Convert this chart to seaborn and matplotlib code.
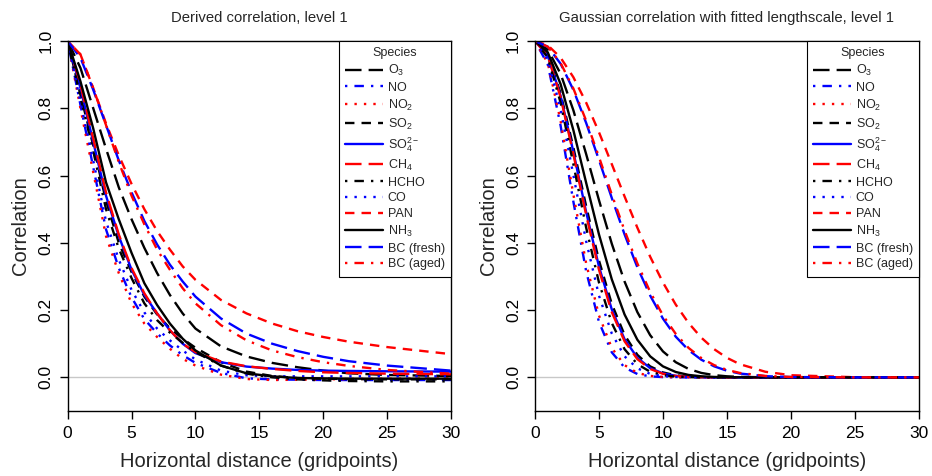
import numpy as np
import pandas as pd
import seaborn as sns
import matplotlib
matplotlib.use("Agg")
import matplotlib.pyplot as plt

# ---------------- data ----------------
species = ["O$_3$", "NO", "NO$_2$", "SO$_2$", "SO$_4^{2-}$", "CH$_4$", "HCHO",
           "CO", "PAN", "NH$_3$", "BC (fresh)", "BC (aged)"]
colors = ["black", "blue", "red", "black", "blue", "red", "black",
          "blue", "red", "black", "blue", "red"]
styles = ["longdash", "dotdash", "dotted", "dashed", "solid", "longdash", "dotdash",
          "dotted", "dashed", "solid", "longdash", "dotdash"]

x_left = [0, 1, 2, 3, 4, 5, 6, 7, 8, 9, 10, 12, 14, 16, 18, 20, 22, 25, 30]
left_O3 = [1, 0.92, 0.80, 0.68, 0.565, 0.47, 0.385, 0.31, 0.245, 0.19, 0.145, 0.092, 0.062, 0.043, 0.03, 0.02, 0.012, 0.007, 0.004]
left_NO = [1, 0.81, 0.625, 0.44, 0.325, 0.238, 0.173, 0.131, 0.095, 0.066, 0.043, 0.013, -0.003, -0.006, -0.007, -0.008, -0.008, -0.008, -0.008]
left_NO2 = [1, 0.80, 0.61, 0.42, 0.31, 0.22, 0.16, 0.12, 0.085, 0.055, 0.035, 0.008, -0.005, -0.008, -0.007, -0.006, -0.005, -0.004, -0.003]
left_SO2 = [1, 0.84, 0.69, 0.525, 0.40, 0.313, 0.24, 0.187, 0.146, 0.115, 0.088, 0.045, 0.017, 0.004, -0.002, -0.004, -0.005, -0.006, -0.006]
left_SO4 = [1, 0.86, 0.70, 0.54, 0.42, 0.32, 0.245, 0.19, 0.14, 0.10, 0.072, 0.045, 0.032, 0.026, 0.022, 0.02, 0.019, 0.018, 0.017]
left_CH4 = [1, 0.87, 0.71, 0.55, 0.425, 0.325, 0.25, 0.19, 0.14, 0.10, 0.075, 0.047, 0.033, 0.025, 0.019, 0.015, 0.013, 0.011, 0.009]
left_HCHO = [1, 0.833, 0.673, 0.5, 0.383, 0.295, 0.22, 0.17, 0.133, 0.103, 0.075, 0.035, 0.011, 0.0, -0.006, -0.009, -0.011, -0.012, -0.012]
left_CO = [1, 0.818, 0.645, 0.464, 0.35, 0.26, 0.193, 0.145, 0.11, 0.08, 0.053, 0.02, 0.006, 0.003, 0.003, 0.003, 0.003, 0.003, 0.003]
left_PAN = [1, 0.96, 0.86, 0.755, 0.66, 0.575, 0.5, 0.435, 0.38, 0.33, 0.29, 0.23, 0.19, 0.16, 0.137, 0.12, 0.106, 0.09, 0.069]
left_NH3 = [1, 0.88, 0.74, 0.58, 0.47, 0.37, 0.28, 0.215, 0.16, 0.115, 0.08, 0.035, 0.012, 0.003, -0.002, -0.003, -0.004, -0.004, -0.004]
left_BCf = [1, 0.95, 0.855, 0.75, 0.645, 0.55, 0.465, 0.395, 0.335, 0.285, 0.24, 0.175, 0.13, 0.10, 0.078, 0.061, 0.048, 0.035, 0.02]
left_BCa = [1, 0.96, 0.86, 0.75, 0.64, 0.54, 0.455, 0.38, 0.32, 0.265, 0.22, 0.155, 0.11, 0.08, 0.06, 0.045, 0.034, 0.022, 0.011]

x_right = [0, 1, 2, 3, 4, 5, 6, 7, 8, 9, 10, 11, 12, 13, 14, 15, 16, 18, 20, 25, 30]
right_O3 = [1, 0.9747, 0.9026, 0.794, 0.6636, 0.5269, 0.3974, 0.2848, 0.1939, 0.1254, 0.0771, 0.045, 0.0249, 0.0131, 0.0066, 0.0031, 0.0014, 0.0002, 0, 0, 0]
right_NO = [1, 0.930, 0.749, 0.5225, 0.3153, 0.1648, 0.0745, 0.0292, 0.0099, 0.0029, 0.0007, 0.0002, 0, 0, 0, 0, 0, 0, 0, 0, 0]
right_NO2 = [1, 0.9346, 0.7628, 0.5438, 0.3386, 0.1841, 0.0874, 0.0363, 0.0131, 0.0042, 0.0012, 0.0003, 0.0001, 0, 0, 0, 0, 0, 0, 0, 0]
right_SO2 = [1, 0.9586, 0.8445, 0.6837, 0.5086, 0.3477, 0.2184, 0.1261, 0.0669, 0.0326, 0.0146, 0.006, 0.0023, 0.0008, 0.0003, 0.0001, 0, 0, 0, 0, 0]
right_SO4 = [1, 0.9565, 0.8372, 0.6705, 0.4913, 0.3294, 0.2021, 0.1134, 0.0583, 0.0274, 0.0118, 0.0046, 0.0017, 0.0005, 0.0002, 0, 0, 0, 0, 0, 0]
right_CH4 = [1, 0.9555, 0.8334, 0.6636, 0.4823, 0.320, 0.1939, 0.1072, 0.0541, 0.0249, 0.0105, 0.004, 0.0014, 0.0005, 0.0001, 0, 0, 0, 0, 0, 0]
right_HCHO = [1, 0.9506, 0.8167, 0.634, 0.4449, 0.282, 0.1616, 0.0837, 0.0392, 0.0166, 0.0063, 0.0022, 0.0007, 0.0002, 0, 0, 0, 0, 0, 0, 0]
right_CO = [1, 0.945, 0.7975, 0.601, 0.4044, 0.243, 0.1304, 0.0625, 0.0268, 0.0102, 0.0035, 0.0011, 0.0003, 0.0001, 0, 0, 0, 0, 0, 0, 0]
right_PAN = [1, 0.9874, 0.9506, 0.8923, 0.8167, 0.7288, 0.634, 0.5378, 0.4449, 0.3587, 0.282, 0.2162, 0.1616, 0.1178, 0.0837, 0.058, 0.0392, 0.0166, 0.0063, 0.0004, 0]
right_NH3 = [1, 0.9663, 0.872, 0.7349, 0.5783, 0.425, 0.2916, 0.1869, 0.1118, 0.0625, 0.0326, 0.0159, 0.0072, 0.0031, 0.0012, 0.0005, 0.0002, 0, 0, 0, 0]
right_BCf = [1, 0.9827, 0.9326, 0.8546, 0.7563, 0.6463, 0.5334, 0.425, 0.3271, 0.2431, 0.1745, 0.1209, 0.081, 0.0523, 0.0327, 0.0197, 0.0114, 0.0035, 0.0009, 0, 0]
right_BCa = [1, 0.9832, 0.9346, 0.8588, 0.7628, 0.6551, 0.5438, 0.4364, 0.3386, 0.254, 0.1842, 0.1291, 0.0875, 0.0573, 0.0363, 0.0222, 0.0131, 0.0042, 0.0012, 0, 0]

left_values = [left_O3, left_NO, left_NO2, left_SO2, left_SO4, left_CH4, left_HCHO,
               left_CO, left_PAN, left_NH3, left_BCf, left_BCa]
right_values = [right_O3, right_NO, right_NO2, right_SO2, right_SO4, right_CH4, right_HCHO,
                right_CO, right_PAN, right_NH3, right_BCf, right_BCa]

titles = ["Derived correlation, level 1", "Gaussian correlation with fitted lengthscale, level 1"]
x_ticks = [0, 5, 10, 15, 20, 25, 30]
y_ticks = [0.0, 0.2, 0.4, 0.6, 0.8, 1.0]
y_tick_labels = ["0.0", "0.2", "0.4", "0.6", "0.8", "1.0"]

# ---------------- style ----------------
sns.set_theme(style="white")
plt.rcParams["font.family"] = ["Liberation Sans", "DejaVu Sans"]
plt.rcParams["mathtext.fontset"] = "custom"
plt.rcParams["mathtext.rm"] = "Liberation Sans"
plt.rcParams["mathtext.it"] = "Liberation Sans"
plt.rcParams["mathtext.default"] = "regular"

dash_map = {
    "solid": "solid",
    "dashed": (0, (4, 3)),
    "dotted": (0, (1, 3)),
    "dotdash": (0, (1, 3, 4, 3)),
    "longdash": (0, (7, 3)),
}

fig = plt.figure(figsize=(9.32, 4.76), dpi=100)
ax_l = fig.add_axes([0.0726, 0.1366, 0.4113, 0.7773])
ax_r = fig.add_axes([0.574, 0.1366, 0.412, 0.7773])


def draw(ax, xs, vals, title):
    for name, col, sty, v in zip(species, colors, styles, vals):
        df = pd.DataFrame({"x": xs, "y": v})
        sns.lineplot(data=df, x="x", y="y", ax=ax, color=col, linewidth=1.7,
                     label=name, legend=False)
        ax.lines[-1].set_linestyle(dash_map[sty])
    handles = list(ax.lines)
    ax.axhline(0, color="#c8c8c8", linewidth=1.0, zorder=0)
    ax.set_xlim(0, 30)
    ax.set_ylim(-0.1, 1.0)
    ax.set_xticks(x_ticks)
    ax.set_yticks(y_ticks)
    ax.set_yticklabels(y_tick_labels, rotation=90, va="center")
    ax.tick_params(axis="both", direction="out", length=6, width=1, labelsize=12.5,
                   colors="black", bottom=True, left=True)
    ax.tick_params(axis="x", pad=5)
    ax.tick_params(axis="y", pad=4)
    for s in ax.spines.values():
        s.set_color("black")
        s.set_linewidth(1.0)
    ax.set_title(title, fontsize=10.7, pad=14)
    ax.set_xlabel("Horizontal distance (gridpoints)", fontsize=14.5, labelpad=8)
    ax.set_ylabel("Correlation", fontsize=14.5, labelpad=6)
    leg = ax.legend(handles, species, title="Species", loc="upper right",
                    bbox_to_anchor=(1.0, 1.0), borderaxespad=0, fontsize=9,
                    title_fontsize=9, frameon=True, fancybox=False,
                    handlelength=3.0, handletextpad=0.4, labelspacing=0.3,
                    borderpad=0.5)
    leg.get_frame().set_edgecolor("black")
    leg.get_frame().set_linewidth(0.8)
    leg.get_frame().set_alpha(1)


draw(ax_l, x_left, left_values, titles[0])
draw(ax_r, x_right, right_values, titles[1])

fig.savefig("out.png", dpi=100)
